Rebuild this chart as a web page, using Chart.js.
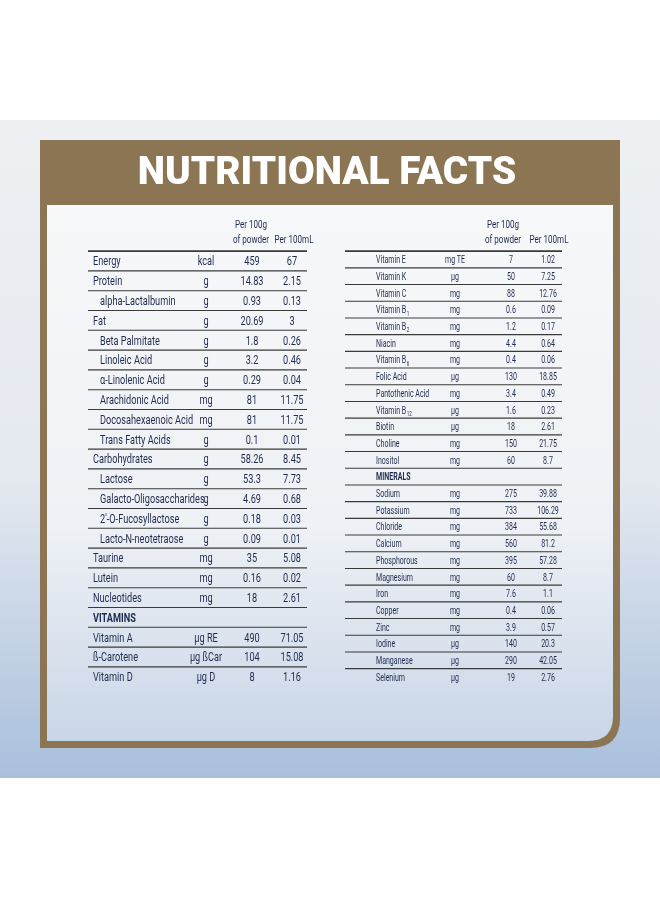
<!DOCTYPE html>
<html><head><meta charset="utf-8">
<script src="https://cdn.jsdelivr.net/npm/chart.js@4"></script>
<style>html,body{margin:0;padding:0;background:#fff}canvas{display:block}</style>
</head><body>
<canvas id="c" width="660" height="900"></canvas>
<script>
const title = "NUTRITIONAL FACTS";
const headers = ["Per 100g", "of powder", "Per 100mL"];
const leftNames = ["Energy","Protein","  alpha-Lactalbumin","Fat","  Beta Palmitate","  Linoleic Acid","  α-Linolenic Acid","  Arachidonic Acid","  Docosahexaenoic Acid","  Trans Fatty Acids","Carbohydrates","  Lactose","  Galacto-Oligosaccharides","  2'-O-Fucosyllactose","  Lacto-N-neotetraose","Taurine","Lutein","Nucleotides","#VITAMINS","Vitamin A","ß-Carotene","Vitamin D"];
const leftUnits = ["kcal","g","g","g","g","g","g","mg","mg","g","g","g","g","g","g","mg","mg","mg","","µg RE","µg ßCar","µg D"];
const leftPer100g = ["459","14.83","0.93","20.69","1.8","3.2","0.29","81","81","0.1","58.26","53.3","4.69","0.18","0.09","35","0.16","18","","490","104","8"];
const leftPer100mL = ["67","2.15","0.13","3","0.26","0.46","0.04","11.75","11.75","0.01","8.45","7.73","0.68","0.03","0.01","5.08","0.02","2.61","","71.05","15.08","1.16"];
const rightNames = ["Vitamin E","Vitamin K","Vitamin C","Vitamin B_1","Vitamin B_2","Niacin","Vitamin B_6","Folic Acid","Pantothenic Acid","Vitamin B_12","Biotin","Choline","Inositol","#MINERALS","Sodium","Potassium","Chloride","Calcium","Phosphorous","Magnesium","Iron","Copper","Zinc","Iodine","Manganese","Selenium"];
const rightUnits = ["mg TE","µg","mg","mg","mg","mg","mg","µg","mg","µg","µg","mg","mg","","mg","mg","mg","mg","mg","mg","mg","mg","mg","µg","µg","µg"];
const rightPer100g = ["7","50","88","0.6","1.2","4.4","0.4","130","3.4","1.6","18","150","60","","275","733","384","560","395","60","7.6","0.4","3.9","140","290","19"];
const rightPer100mL = ["1.02","7.25","12.76","0.09","0.17","0.64","0.06","18.85","0.49","0.23","2.61","21.75","8.7","","39.88","106.29","55.68","81.2","57.28","8.7","1.1","0.06","0.57","20.3","42.05","2.76"];

const FONT = "Roboto, 'Noto Sans', sans-serif";
const INK = '#1f2b4d';
let SQ = 0.72;

function txt(ctx, s, x, y, align, k){
  k = k || SQ;
  ctx.save(); ctx.translate(x, y); ctx.scale(k, 1);
  ctx.textAlign = align; ctx.fillText(s, 0, 0); ctx.restore();
}
function tw(ctx, s, k){ return ctx.measureText(s).width * (k || SQ); }

function drawName(ctx, s, x, y, size){
  let bold = false;
  if (s.startsWith('#')) { bold = true; s = s.slice(1); }
  let indent = 0;
  if (s.startsWith('  ')) { indent = 7; s = s.trim(); }
  ctx.font = (bold ? 'bold ' : '') + size + 'px ' + FONT;
  const parts = s.split('_');
  txt(ctx, parts[0], x + indent, y, 'left');
  if (parts[1]) {
    const w = tw(ctx, parts[0]);
    ctx.font = Math.round(size*0.65) + 'px ' + FONT;
    txt(ctx, parts[1], x + indent + w + 0.5, y + size*0.3, 'left');
  }
}

function drawTable(ctx, sx, sy, cfg, names, units, v1, v2){
  const X = v => sx.getPixelForValue(v), Y = v => sy.getPixelForValue(v);
  ctx.fillStyle = INK; ctx.textBaseline = 'middle';
  SQ = 0.7;
  ctx.font = cfg.hsize + 'px ' + FONT;
  txt(ctx, headers[0], X(cfg.h1), Y(cfg.hy - 15), 'center');
  txt(ctx, headers[1], X(cfg.h1), Y(cfg.hy), 'center');
  txt(ctx, headers[2], X(cfg.h2), Y(cfg.hy), 'center');
  SQ = cfg.sq;
  ctx.strokeStyle = '#3a3a3a';
  for (let i = 0; i < names.length; i++) {
    const ly = Y(cfg.y0 - cfg.step/2 + i*cfg.step);
    ctx.lineWidth = (i === 0) ? 1.6 : 1.1;
    ctx.beginPath(); ctx.moveTo(X(cfg.x0), ly); ctx.lineTo(X(cfg.x1), ly); ctx.stroke();
  }
  names.forEach((n, i) => {
    const y = Y(cfg.y0 + i*cfg.step) + 1;
    ctx.fillStyle = INK;
    drawName(ctx, n, X(cfg.nx), y, cfg.size);
    ctx.font = cfg.size + 'px ' + FONT;
    txt(ctx, units[i], X(cfg.cu), y, 'center');
    txt(ctx, v1[i], X(cfg.c1), y, 'center');
    txt(ctx, v2[i], X(cfg.c2), y, 'center');
  });
}

const tablePlugin = {
  id: 'table',
  beforeDraw(chart){
    const ctx = chart.ctx, sx = chart.scales.x, sy = chart.scales.y;
    const X = v => sx.getPixelForValue(v), Y = v => sy.getPixelForValue(v);
    ctx.save();
    ctx.fillStyle = '#fff'; ctx.fillRect(0,0,660,900);
    let g = ctx.createLinearGradient(0, Y(120), 0, Y(778));
    g.addColorStop(0,'#eef0f3'); g.addColorStop(0.55,'#e4e9f0'); g.addColorStop(1,'#a9bfdc');
    ctx.fillStyle = g; ctx.fillRect(0, Y(120), 660, Y(778)-Y(120));
    ctx.fillStyle = '#8b7552';
    ctx.beginPath();
    ctx.moveTo(X(40), Y(140)); ctx.lineTo(X(620), Y(140)); ctx.lineTo(X(620), Y(718));
    ctx.quadraticCurveTo(X(620), Y(748), X(590), Y(748)); ctx.lineTo(X(40), Y(748)); ctx.closePath(); ctx.fill();
    g = ctx.createLinearGradient(0, Y(205), 0, Y(742));
    g.addColorStop(0,'#f7f8fa'); g.addColorStop(0.6,'#eef1f5'); g.addColorStop(1,'#c9d6e8');
    ctx.fillStyle = g;
    ctx.beginPath();
    ctx.moveTo(X(47), Y(205)); ctx.lineTo(X(613), Y(205)); ctx.lineTo(X(613), Y(716));
    ctx.quadraticCurveTo(X(613), Y(741), X(588), Y(741)); ctx.lineTo(X(47), Y(741)); ctx.closePath(); ctx.fill();
    ctx.fillStyle = '#fff'; ctx.textBaseline = 'middle';
    ctx.font = '900 38px Roboto, "DejaVu Sans", sans-serif';
    txt(ctx, title, X(327), Y(174), 'center', 1.02);
    drawTable(ctx, sx, sy, {x0:88,x1:307,nx:93,cu:206,c1:252,c2:292,h1:251,h2:294,y0:261,step:19.8,hy:240,size:13.5,hsize:11.5,sq:0.68}, leftNames, leftUnits, leftPer100g, leftPer100mL);
    drawTable(ctx, sx, sy, {x0:345,x1:562,nx:376,cu:455,c1:511,c2:548,h1:503,h2:549,y0:259.5,step:16.7,hy:240,size:11,hsize:11.5,sq:0.64}, rightNames, rightUnits, rightPer100g, rightPer100mL);
    ctx.restore();
  }
};

new Chart(document.getElementById('c'), {
  type: 'scatter',
  data: { datasets: [{ data: [] }] },
  options: {
    responsive: false, animation: false, devicePixelRatio: 1,
    layout: { padding: 0 },
    plugins: { legend: {display:false}, tooltip: {enabled:false} },
    scales: {
      x: { type:'linear', min:0, max:660, display:false },
      y: { type:'linear', min:0, max:900, reverse:true, display:false }
    }
  },
  plugins: [tablePlugin]
});
</script>
</body></html>
